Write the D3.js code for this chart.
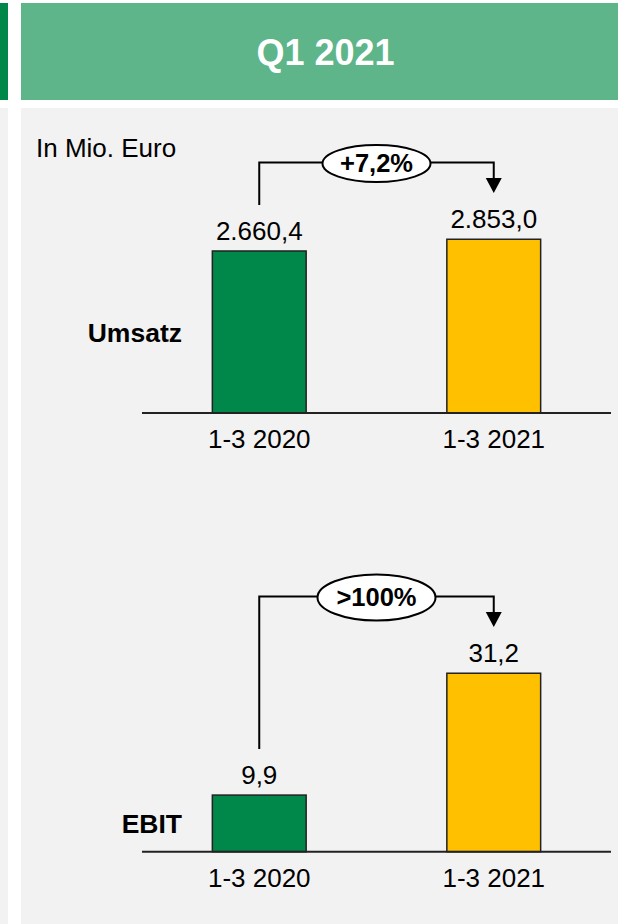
<!DOCTYPE html>
<html><head><meta charset="utf-8">
<script src="https://cdn.jsdelivr.net/npm/d3@7"></script>
<style>body{margin:0;background:#fff}svg{display:block}text{font-family:"Liberation Sans",Arial,sans-serif}</style>
</head><body>
<script>
const title = "Q1 2021";
const unitLabel = "In Mio. Euro";
const categories = ["1-3 2020", "1-3 2021"];
const umsatzValues = [2660.4, 2853.0];
const umsatzLabels = ["2.660,4", "2.853,0"];
const umsatzChange = "+7,2%";
const ebitValues = [9.9, 31.2];
const ebitLabels = ["9,9", "31,2"];
const ebitChange = ">100%";
const barColors = ["#00884a", "#ffc000"];

const W = 618, H = 924;
const svg = d3.select("body").append("svg").attr("width", W).attr("height", H);

// backgrounds
svg.append("rect").attr("x",0).attr("y",0).attr("width",W).attr("height",H).attr("fill","#fff");
svg.append("rect").attr("x",0).attr("y",3).attr("width",8).attr("height",97).attr("fill","#00884a");
svg.append("rect").attr("x",21).attr("y",3).attr("width",W-21).attr("height",97).attr("fill","#5db589");
svg.append("rect").attr("x",0).attr("y",108).attr("width",8).attr("height",H-108).attr("fill","#f2f2f2");
svg.append("rect").attr("x",21).attr("y",108).attr("width",W-21).attr("height",H-108).attr("fill","#f2f2f2");

svg.append("text").attr("x",325.5).attr("y",65).attr("text-anchor","middle")
  .attr("font-size",36).attr("font-weight","bold").attr("fill","#fff").text(title);
svg.append("text").attr("x",36).attr("y",157).attr("font-size",26).attr("fill","#000").text(unitLabel);

const x = d3.scaleBand().domain(categories).range([142, 611]).paddingInner(0.6).paddingOuter(0.3);

function panel(opts) {
  const {values, labels, change, name, y, nameY, bracketY, leftBottom, arrowTip, rx, ry} = opts;
  const g = svg.append("g");
  const base = y(0);
  g.selectAll("rect.bar").data(values).join("rect").attr("class","bar")
    .attr("x",(d,i)=>x(categories[i])).attr("width",x.bandwidth())
    .attr("y",d=>y(d)).attr("height",d=>base-y(d))
    .attr("fill",(d,i)=>barColors[i]).attr("stroke","#222").attr("stroke-width",1.5);
  g.append("line").attr("x1",x.range()[0]).attr("x2",x.range()[1]).attr("y1",base).attr("y2",base)
    .attr("stroke","#222").attr("stroke-width",2);
  g.selectAll("text.val").data(values).join("text").attr("class","val")
    .attr("x",(d,i)=>x(categories[i])+x.bandwidth()/2).attr("y",d=>y(d)-11)
    .attr("text-anchor","middle").attr("font-size",26).attr("fill","#000").text((d,i)=>labels[i]);
  g.selectAll("text.cat").data(categories).join("text").attr("class","cat")
    .attr("x",d=>x(d)+x.bandwidth()/2).attr("y",base+35)
    .attr("text-anchor","middle").attr("font-size",26).attr("fill","#000").text(d=>d);
  g.append("text").attr("x",182).attr("y",nameY).attr("text-anchor","end")
    .attr("font-size",26.5).attr("font-weight","bold").attr("fill","#000").text(name);
  const x1 = x(categories[0])+x.bandwidth()/2, x2 = x(categories[1])+x.bandwidth()/2;
  const cx = (x1+x2)/2;
  g.append("path").attr("d",`M${x1},${leftBottom}V${bracketY}H${x2}V${arrowTip-14}`)
    .attr("fill","none").attr("stroke","#000").attr("stroke-width",2);
  g.append("path").attr("d",`M${x2-8},${arrowTip-15}L${x2+8},${arrowTip-15}L${x2},${arrowTip}Z`).attr("fill","#000");
  g.append("ellipse").attr("cx",cx).attr("cy",bracketY+1).attr("rx",rx).attr("ry",ry)
    .attr("fill","#fff").attr("stroke","#000").attr("stroke-width",2);
  g.append("text").attr("x",cx).attr("y",bracketY+9.5).attr("text-anchor","middle")
    .attr("font-size",25.5).attr("font-weight","bold").attr("fill","#000").text(change);
}

const yU = d3.scaleLinear().domain([0, 3000]).range([413, 230.3]);
panel({values: umsatzValues, labels: umsatzLabels, change: umsatzChange, name: "Umsatz",
  y: yU, nameY: 342, bracketY: 162.5, leftBottom: 205, arrowTip: 193, rx: 54, ry: 18.5});

const yE = d3.scaleLinear().domain([0, 35]).range([851.7, 651.5]);
panel({values: ebitValues, labels: ebitLabels, change: ebitChange, name: "EBIT",
  y: yE, nameY: 833, bracketY: 596.5, leftBottom: 749, arrowTip: 627, rx: 59, ry: 23});
</script>
</body></html>
